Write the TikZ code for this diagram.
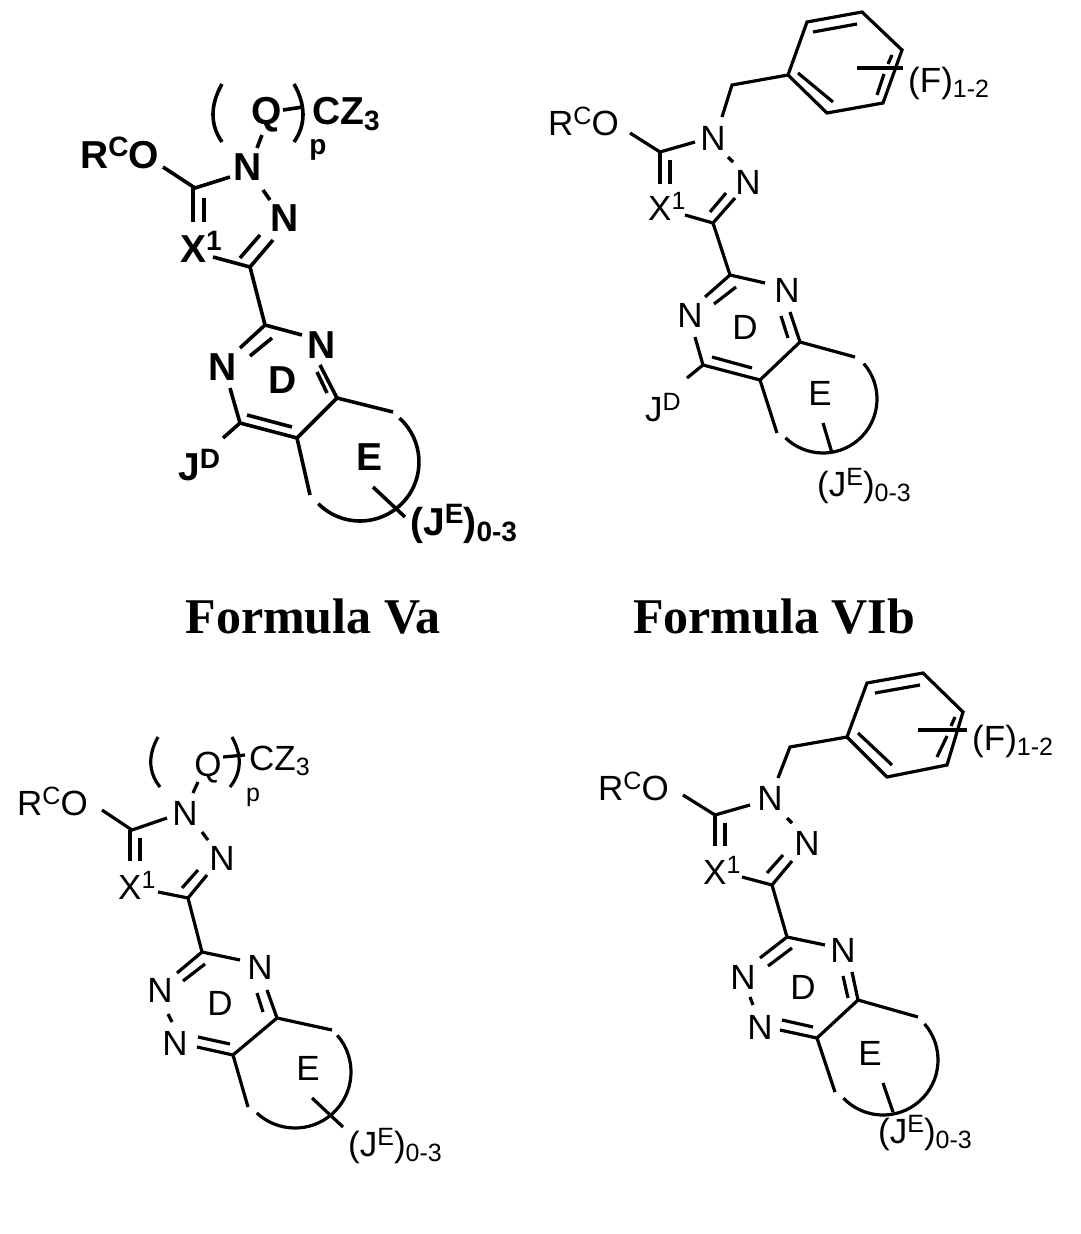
\documentclass[tikz,border=0pt]{standalone}
\usepackage{fontspec}
\setmainfont{Liberation Sans}
\newfontfamily\tnr{Liberation Serif}
\newcommand\SupA[1]{\raisebox{0.3em}{\fontsize{28}{28}\selectfont #1}}
\newcommand\SubA[1]{\raisebox{-0.16em}{\fontsize{28}{28}\selectfont #1}}
\newcommand\SupB[1]{\raisebox{0.3em}{\fontsize{25}{25}\selectfont #1}}
\newcommand\SubB[1]{\raisebox{-0.16em}{\fontsize{25}{25}\selectfont #1}}
\begin{document}
\begin{tikzpicture}[x=1pt,y=-1pt,
  bA/.style={line width=3.6pt},
  bB/.style={line width=3.2pt},
  lA/.style={inner sep=0pt,font=\fontsize{39}{39}\selectfont\bfseries},
  lB/.style={inner sep=0pt,font=\fontsize{35}{35}\selectfont},
  sA/.style={inner sep=0pt,font=\fontsize{28}{28}\selectfont\bfseries},
  sB/.style={inner sep=0pt,font=\fontsize{25}{25}\selectfont},
  caption/.style={inner sep=0pt,font=\fontsize{50}{50}\selectfont\tnr\bfseries}]
\useasboundingbox[fill=white] (0,0) rectangle (1081,1234);

% ================= Formula Va (top left, bold) =================
\node[lA,anchor=base west] (rco1) at (80,168) {R\SupA{C}O};
\node[lA] (n11) at (248,167) {N};
\node[lA] (n21) at (285,218) {N};
\node[lA,anchor=base west] (x11) at (180,262) {X\SupA{1}};
\node[lA] (q1) at (267,115) {Q};
\node[lA,anchor=base west] (cz1) at (312,124) {CZ\SubA{3}};
\node[sA] (p1) at (318,150) {p};
\node[lA] (na1) at (223,367) {N};
\node[lA] (nb1) at (322,345) {N};
\node[lA] (d1) at (283,380) {D};
\node[lA,anchor=base west] (jd1) at (178,480) {J\SupA{D}};
\node[lA] (e1) at (370,457) {E};
\node[lA,anchor=base west] (je1) at (410,535) {(J\SupA{E})\SubA{0-3}};
\node[caption] (f1) at (313,617) {Formula Va};
\begin{scope}[bA]
\draw (163,167) -- (195,188) -- (230,177);
\draw (257,148) -- (262,135);
\draw (263,190) -- (270,200);
\draw (193,188) -- (193,222); \draw (204,198) -- (204,222);
\draw (213,257) -- (250,267) -- (273,240);
\draw (240,258) -- (260,235);
\draw (250,267) -- (265,325) -- (302,335);
\draw (265,325) -- (240,348); \draw (272,338) -- (250,356);
\draw (230,388) -- (240,423) -- (297,438) -- (337,398) -- (320,365);
\draw (247,415) -- (292,427);
\draw (317,372) -- (327,393);
\draw (240,423) -- (223,438);
\draw (337,398) -- (393,412);
\draw (297,438) -- (310,495);
\draw (360,462) ++(-48:59) arc[start angle=-48,end angle=135,radius=59];
\draw (373,487) -- (405,517);
\draw (283,110) -- (303,107);
\draw (222,84) .. controls (210,105) and (210,125) .. (222,142);
\draw (294,84) .. controls (306,105) and (306,125) .. (294,142);
\end{scope}

% ================= Formula VIb (top right) =================
\node[lB,anchor=base west] (rco2) at (548,135) {R\SupB{C}O};
\node[lB] (n12) at (713,138) {N};
\node[lB] (n22) at (748,182) {N};
\node[lB,anchor=base west] (x12) at (648,220) {X\SupB{1}};
\node[lB] (na2) at (690,315) {N};
\node[lB] (nb2) at (787,290) {N};
\node[lB] (d2) at (745,327) {D};
\node[lB,anchor=base west] (jd2) at (645,421) {J\SupB{D}};
\node[lB] (e2) at (820,393) {E};
\node[lB,anchor=base west] (je2) at (817,496) {(J\SupB{E})\SubB{0-3}};
\node[lB,anchor=base west] (fl2) at (908,92) {(F)\SubB{1-2}};
\node[caption] (f2) at (774,617) {Formula VIb};
\begin{scope}[bB]
\draw (630,133) -- (660,152) -- (695,142);
\draw (722,117) -- (732,85) -- (788,75);
\draw (788,75) -- (807,22) -- (862,12) -- (902,50) -- (883,103) -- (827,113) -- cycle;
\draw (813,32) -- (857,24);
\draw (798,73) -- (833,102);
\draw (892,55) -- (888,64); \draw (884,74) -- (877,95);
\draw (857,68) -- (903,68);
\draw (728,157) -- (733,162);
\draw (660,152) -- (660,184); \draw (670,160) -- (670,184);
\draw (685,215) -- (713,223) -- (735,198);
\draw (710,212) -- (726,193);
\draw (713,223) -- (730,275) -- (765,283);
\draw (730,275) -- (705,297); \draw (736,287) -- (714,304);
\draw (695,337) -- (703,365) -- (760,380) -- (800,342) -- (790,312);
\draw (712,357) -- (752,368);
\draw (781,316) -- (788,338);
\draw (703,365) -- (687,378);
\draw (800,342) -- (855,357);
\draw (760,380) -- (777,433);
\draw (823,399) ++(-41:54) arc[start angle=-41,end angle=134,radius=54];
\draw (823,423) -- (832,453);
\end{scope}

% ================= bottom left =================
\node[lB,anchor=base west] (rco3) at (17,815) {R\SupB{C}O};
\node[lB] (n13) at (185,813) {N};
\node[lB] (n23) at (222,858) {N};
\node[lB,anchor=base west] (x13) at (118,899) {X\SupB{1}};
\node[lB] (q3) at (208,768) {Q};
\node[lB,anchor=base west] (cz3) at (249,770) {CZ\SubB{3}};
\node[sB] (p3) at (253,797) {p};
\node[lB] (na3) at (160,990) {N};
\node[lB] (nb3) at (175,1043) {N};
\node[lB] (nc3) at (260,967) {N};
\node[lB] (d3) at (220,1003) {D};
\node[lB] (e3) at (308,1068) {E};
\node[lB,anchor=base west] (je3) at (348,1156) {(J\SupB{E})\SubB{0-3}};
\begin{scope}[bB]
\draw (102,810) -- (132,830) -- (167,818);
\draw (193,793) -- (198,782);
\draw (202,832) -- (208,840);
\draw (130,830) -- (130,861); \draw (140,838) -- (140,861);
\draw (158,892) -- (188,898) -- (207,875);
\draw (182,888) -- (198,870);
\draw (188,898) -- (202,952) -- (240,960);
\draw (202,952) -- (177,973); \draw (205,964) -- (183,981);
\draw (168,1014) -- (172,1022);
\draw (197,1047) -- (233,1055) -- (277,1018) -- (267,990);
\draw (198,1037) -- (230,1044);
\draw (257,993) -- (263,1012);
\draw (277,1018) -- (332,1030);
\draw (233,1055) -- (248,1107);
\draw (295,1072) ++(-41:56) arc[start angle=-41,end angle=133,radius=56];
\draw (312,1098) -- (343,1127);
\draw (223,757) -- (245,755);
\draw (158,737) .. controls (148,755) and (148,772) .. (160,787);
\draw (232,737) .. controls (242,755) and (242,772) .. (230,787);
\end{scope}

% ================= bottom right =================
\node[lB,anchor=base west] (rco4) at (598,800) {R\SupB{C}O};
\node[lB] (n14) at (770,798) {N};
\node[lB] (n24) at (807,843) {N};
\node[lB,anchor=base west] (x14) at (703,884) {X\SupB{1}};
\node[lB] (na4) at (743,977) {N};
\node[lB] (nb4) at (760,1027) {N};
\node[lB] (nc4) at (843,950) {N};
\node[lB] (d4) at (803,987) {D};
\node[lB] (e4) at (870,1053) {E};
\node[lB,anchor=base west] (je4) at (878,1143) {(J\SupB{E})\SubB{0-3}};
\node[lB,anchor=base west] (fl4) at (972,750) {(F)\SubB{1-2}};
\begin{scope}[bB]
\draw (683,795) -- (715,815) -- (750,805);
\draw (778,778) -- (790,747) -- (847,737);
\draw (847,737) -- (867,683) -- (923,673) -- (963,712) -- (947,765) -- (887,777) -- cycle;
\draw (875,693) -- (920,685);
\draw (858,733) -- (892,765);
\draw (955,717) -- (951,726); \draw (947,736) -- (937,757);
\draw (918,730) -- (967,730);
\draw (787,818) -- (792,823);
\draw (715,815) -- (715,846); \draw (725,823) -- (725,846);
\draw (742,877) -- (772,885) -- (792,861);
\draw (767,873) -- (783,855);
\draw (772,885) -- (787,937) -- (825,945);
\draw (787,937) -- (760,958); \draw (792,948) -- (768,966);
\draw (750,997) -- (753,1005);
\draw (780,1030) -- (817,1038) -- (858,1000) -- (852,972);
\draw (782,1020) -- (813,1027);
\draw (843,976) -- (848,998);
\draw (858,1000) -- (918,1017);
\draw (817,1038) -- (835,1092);
\draw (883,1060) ++(-41:55) arc[start angle=-41,end angle=136,radius=55];
\draw (883,1083) -- (893,1112);
\end{scope}
\end{tikzpicture}
\end{document}
